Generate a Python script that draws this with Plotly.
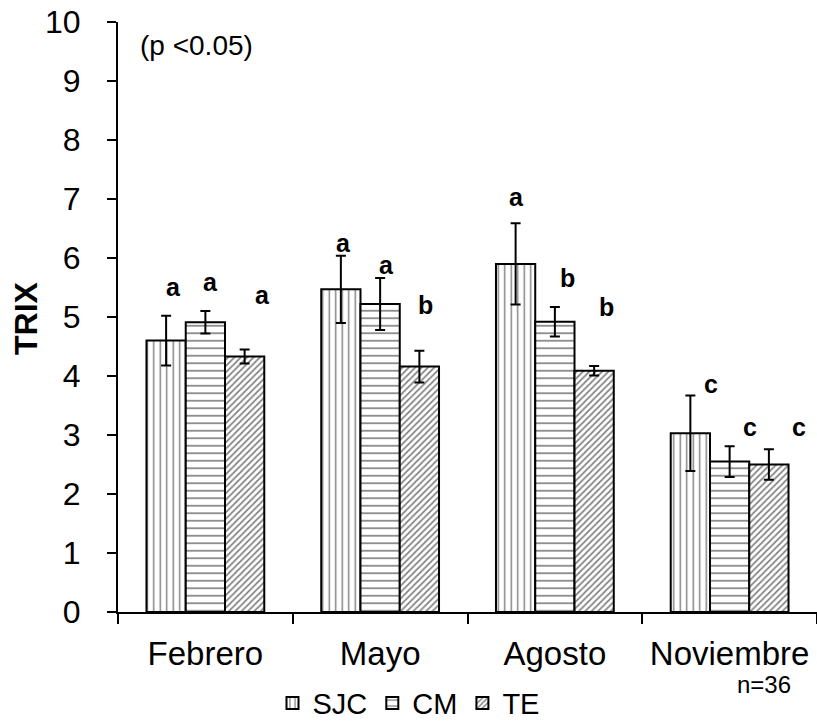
import plotly.graph_objects as go

months = ["Febrero", "Mayo", "Agosto", "Noviembre"]
series = ["SJC", "CM", "TE"]
sjc = [4.60, 5.47, 5.90, 3.03]
cm = [4.91, 5.22, 4.92, 2.55]
te = [4.33, 4.16, 4.09, 2.50]
sjc_err = [0.42, 0.57, 0.69, 0.64]
cm_err = [0.19, 0.44, 0.25, 0.26]
te_err = [0.12, 0.27, 0.08, 0.26]

# significance letters and the height (TRIX units) where each one sits
letters = [["a", "a", "a"], ["a", "a", "b"], ["a", "b", "b"], ["c", "c", "c"]]
letter_y = [[5.51, 5.59, 5.37], [6.25, 5.88, 5.20], [7.03, 5.66, 5.17], [3.86, 3.14, 3.14]]
letter_dx = [[-32, 5, 57], [-37, 6, 45], [-38, 13, 52], [-19, 20, 69]]

FONT = "Liberation Sans, Arial, sans-serif"

values = [sjc, cm, te]
errors = [sjc_err, cm_err, te_err]
patterns = [
    dict(shape="|", size=6.5, solidity=0.22),
    dict(shape="-", size=7.5, solidity=0.22),
    dict(shape="/", size=4.5, solidity=0.38),
]

fig = go.Figure()
for name, vals, errs, pat in zip(series, values, errors, patterns):
    fig.add_trace(go.Bar(
        x=months, y=vals, name=name,
        marker=dict(color="white",
                    line=dict(color="black", width=2),
                    pattern=dict(fgcolor="black", bgcolor="white", **pat)),
        error_y=dict(type="data", array=errs, visible=True,
                     color="black", thickness=2, width=5),
    ))

annotations = []
for i, m in enumerate(months):
    for j in range(3):
        annotations.append(dict(
            x=m, y=letter_y[i][j], xref="x", yref="y",
            text=letters[i][j], showarrow=False, xshift=letter_dx[i][j],
            xanchor="center", yanchor="middle",
            font=dict(family=FONT, size=25, color="black", weight="bold"),
        ))

W, H = 817, 725
L, R, T, B = 118, 0, 22, 113
pw, ph = W - L - R, H - T - B


def px(x, y):
    return (x - L) / pw, (H - B - y) / ph


extra = [
    ("TRIX", 26, 318, 32, "bold", -90),
    ("(p <0.05)", 196, 45, 28, "normal", 0),
    ("n=36", 764, 684, 24, "normal", 0),
]
for text, x, y, size, weight, ang in extra:
    ax, ay = px(x, y)
    annotations.append(dict(
        x=ax, y=ay, xref="paper", yref="paper", text=text, showarrow=False,
        xanchor="center", yanchor="middle", textangle=ang,
        font=dict(family=FONT, size=size, color="black", weight=weight),
    ))

fig.update_layout(
    width=W, height=H,
    margin=dict(l=L, r=R, t=T, b=B),
    paper_bgcolor="white", plot_bgcolor="white",
    barmode="group", bargap=0.326, bargroupgap=0,
    font=dict(family=FONT, size=32, color="black"),
    annotations=annotations,
    showlegend=True,
    legend=dict(orientation="h", xref="container", yref="container",
                x=0.5, xanchor="center", y=0.03, yanchor="middle",
                font=dict(family=FONT, size=29, color="black"),
                itemwidth=30, tracegroupgap=0, bgcolor="rgba(0,0,0,0)"),
    xaxis=dict(showline=True, linecolor="black", linewidth=2,
               ticks="outside", ticklen=10, tickwidth=2, tickcolor="black",
               tickson="boundaries", showgrid=False, zeroline=False,
               ticklabelstandoff=11,
               tickfont=dict(family=FONT, size=33, color="black")),
    yaxis=dict(range=[0, 10], dtick=1, showline=True, linecolor="black",
               linewidth=2, ticks="outside", ticklen=9, tickwidth=2,
               tickcolor="black", showgrid=False, zeroline=False,
               ticklabelstandoff=20,
               tickfont=dict(family=FONT, size=32, color="black")),
)

fig.write_html("out.html")
